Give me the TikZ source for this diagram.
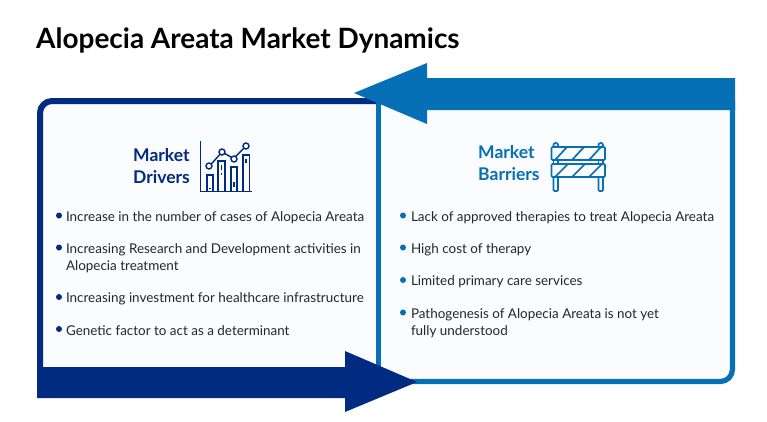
\documentclass[tikz,border=0pt]{standalone}
\usepackage{fontspec}
\setmainfont{Lato}[Ligatures=TeX]
\definecolor{navy}{HTML}{012B80}
\definecolor{azure}{HTML}{0570B5}
\definecolor{ink}{HTML}{262626}
\definecolor{pale}{HTML}{FBFCFF}
\begin{document}
\begin{tikzpicture}[x=1pt,y=-1pt,
  body/.style={anchor=base west,inner sep=0pt,outer sep=0pt,font=\fontsize{13.45}{17}\selectfont,text=ink,align=left},
  headtxt/.style={inner sep=0pt,font=\bfseries\fontsize{17.5}{22}\selectfont,align=left},
  dot/.style={circle,inner sep=0pt,minimum size=6pt},
  icona/.style={draw=navy,line width=1.4pt,fill=none},
  iconb/.style={draw=azure,line width=1.7pt,fill=none}]
\useasboundingbox (0,0) rectangle (767,421);
\fill[white] (0,0) rectangle (767,421);
% panels
\fill[pale] (43,104) rectangle (729,378);
% left frame
\draw[navy,line width=6pt,rounded corners=12pt] (40,380) -- (40,101) -- (378,101);
% right frame
\draw[azure,line width=5.2pt] (378.5,101) -- (378.5,381.5);
\draw[azure,line width=5.2pt,rounded corners=12pt] (378.5,381.5) -- (732.4,381.5) -- (732.4,100);
% big arrows
\fill[azure] (735,78) -- (427,78) -- (427,63) -- (354,93) -- (427,124) -- (427,110) -- (735,110) -- cycle;
\fill[navy] (37,367) -- (345,367) -- (345,351) -- (417,382) -- (345,412) -- (345,398) -- (37,398) -- cycle;
% title
\node[anchor=base west,inner sep=0pt,font=\bfseries\fontsize{27.95}{32}\selectfont,text=black] (title) at (36,48) {Alopecia Areata Market Dynamics};
% headings
\node[headtxt,text=navy,anchor=base west] (mdr1) at (133,161) {Market};
\node[headtxt,text=navy,anchor=base west] (mdr2) at (133,183) {Drivers};
\node[headtxt,text=azure,anchor=base west] (mba1) at (478,158.5) {Market};
\node[headtxt,text=azure,anchor=base west] (mba2) at (478,180.5) {Barriers};
% driver icon
\draw[icona] (200.5,141) -- (200.5,191.5) -- (252,191.5);
\draw[icona] (207,191) -- (207,175) -- (213,175) -- (213,191);
\draw[icona] (218,191) -- (218,161) -- (225,161) -- (225,191);
\draw[icona] (231,191) -- (231,167) -- (237,167) -- (237,191);
\draw[icona] (243,191) -- (243,155) -- (249.5,155) -- (249.5,191);
\draw[icona] (210,188) -- (210,189) (221.5,165) -- (221.5,170) (221.5,173) -- (221.5,175) (234,182) -- (234,187) (246,159) -- (246,163);
\draw[icona] (209.5,166) -- (222,152) -- (233.5,158.5) -- (246,146);
\foreach \p in {(209,166),(222,152),(234,159),(246,146)}
  \draw[icona,fill=pale] \p circle[radius=3];
% barrier icon
\draw[iconb,rounded corners=1pt] (551.5,147) rectangle (605,160);
\draw[iconb,rounded corners=1pt] (551.5,164) rectangle (605,177);
\draw[iconb,rounded corners=2pt] (553.5,147) -- (553.5,143) -- (558,143) -- (558,147);
\draw[iconb,rounded corners=2pt] (598.5,147) -- (598.5,143) -- (603,143) -- (603,147);
\draw[iconb] (553.5,160) -- (553.5,164) (558,160) -- (558,164) (598.5,160) -- (598.5,164) (603,160) -- (603,164);
\draw[iconb,rounded corners=1pt] (553.5,177) -- (553.5,191) -- (558,191) -- (558,177);
\draw[iconb,rounded corners=1pt] (598.5,177) -- (598.5,191) -- (603,191) -- (603,177);
\foreach \a in {555,572,589}{
  \draw[iconb] (\a,160) -- (\a+12,147);
  \draw[iconb] (\a,177) -- (\a+13,164);
}
% left text
\node[dot,fill=navy] (b1) at (59,215.5) {};
\node[body] (t1) at (66,221) {Increase in the number of cases of Alopecia Areata};
\node[dot,fill=navy] (b2) at (59,247.5) {};
\node[body] (t2) at (66,253) {Increasing Research and Development activities in};
\node[body] (t2b) at (66,270) {Alopecia treatment};
\node[dot,fill=navy] (b3) at (59,297) {};
\node[body] (t3) at (66,302) {Increasing investment for healthcare infrastructure};
\node[dot,fill=navy] (b4) at (59,329) {};
\node[body] (t4) at (66,335) {Genetic factor to act as a determinant};
% right text
\node[dot,fill=azure] (c1) at (403,215.5) {};
\node[body] (u1) at (411,221) {Lack of approved therapies to treat Alopecia Areata};
\node[dot,fill=azure] (c2) at (403,247.5) {};
\node[body] (u2) at (411,253) {High cost of therapy};
\node[dot,fill=azure] (c3) at (403,280) {};
\node[body] (u3) at (411,285) {Limited primary care services};
\node[dot,fill=azure] (c4) at (403,312.5) {};
\node[body] (u4) at (411,318) {Pathogenesis of Alopecia Areata is not yet};
\node[body] (u4b) at (411,335) {fully understood};
\end{tikzpicture}
\end{document}
